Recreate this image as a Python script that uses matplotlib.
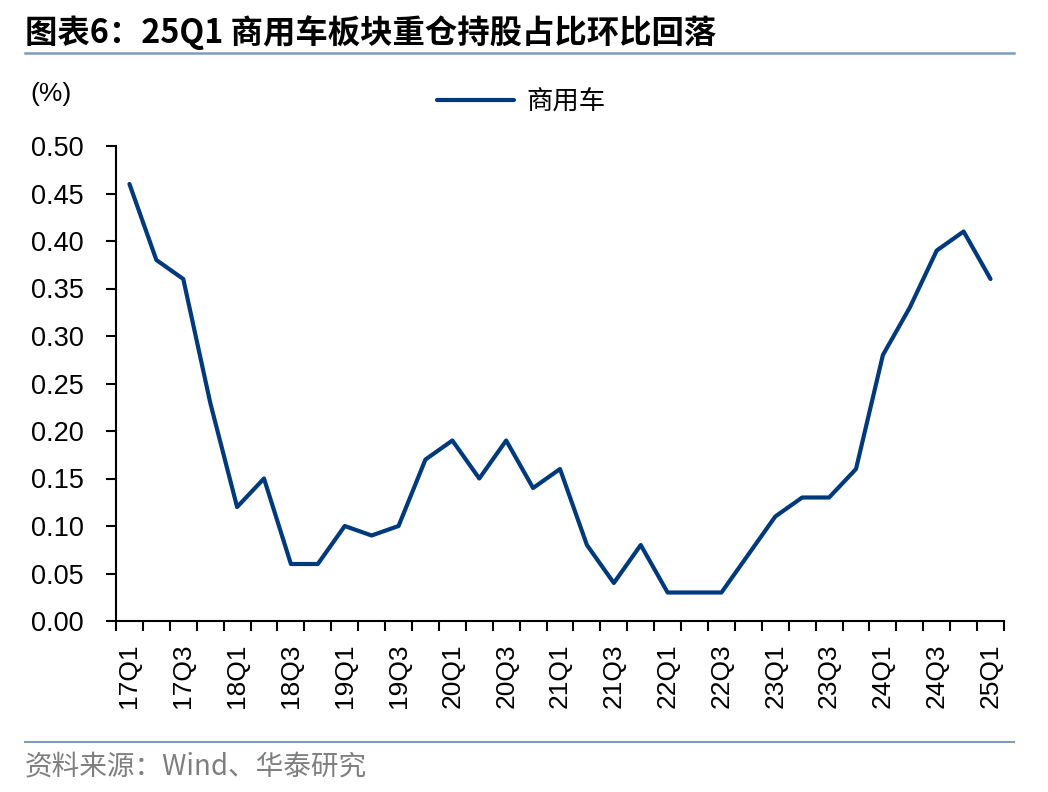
import matplotlib
matplotlib.use("Agg")
import matplotlib.pyplot as plt
import numpy as np

quarters = ["17Q1","17Q2","17Q3","17Q4","18Q1","18Q2","18Q3","18Q4",
            "19Q1","19Q2","19Q3","19Q4","20Q1","20Q2","20Q3","20Q4",
            "21Q1","21Q2","21Q3","21Q4","22Q1","22Q2","22Q3","22Q4",
            "23Q1","23Q2","23Q3","23Q4","24Q1","24Q2","24Q3","24Q4","25Q1"]
values = [0.46,0.38,0.36,0.23,0.12,0.15,0.06,0.06,
          0.10,0.09,0.10,0.17,0.19,0.15,0.19,0.14,
          0.16,0.08,0.04,0.08,0.03,0.03,0.03,0.07,
          0.11,0.13,0.13,0.16,0.28,0.33,0.39,0.41,0.36]
series_name = "商用车"
yticks = [0.00,0.05,0.10,0.15,0.20,0.25,0.30,0.35,0.40,0.45,0.50]

CJK = ['Noto Sans CJK SC', 'DejaVu Sans']
LAT = ['Liberation Sans', 'DejaVu Sans']

fig = plt.figure(figsize=(10.48, 7.92), dpi=100)
W, H = 1048, 792
ax = fig.add_axes([116/W, 1-621/H, (1004-116)/W, (621-146)/H])

x = np.arange(len(quarters))
line, = ax.plot(x, values, color='#003A7D', lw=3.0, solid_joinstyle='round',
                solid_capstyle='round', label=series_name)

ax.set_xlim(-0.5, len(quarters)-0.5)
ax.set_ylim(0, 0.5)
ax.set_yticks(yticks)
ax.set_yticklabels([f"{v:.2f}" for v in yticks], family=LAT, fontsize=19.5)
ax.tick_params(axis='y', direction='out', length=7, width=1.5, pad=16)

ax.set_xticks(np.arange(-0.5, len(quarters)), minor=True)
ax.set_xticks(x[::2])
ax.set_xticklabels(quarters[::2], rotation=90, family=LAT, fontsize=19)
ax.tick_params(axis='x', which='major', length=0, pad=16)
ax.tick_params(axis='x', which='minor', direction='out', length=7, width=1.5)

for s in ['top', 'right']:
    ax.spines[s].set_visible(False)
for s in ['left', 'bottom']:
    ax.spines[s].set_linewidth(1.5)

leg = fig.legend(handles=[line], loc='center', bbox_to_anchor=(521/W, 1-102/H),
                 frameon=False, prop={'family': CJK, 'size': 19}, handlelength=2.95,
                 handletextpad=0.45)

fig.text(30/W, 1-94/H, "(%)", family=LAT, fontsize=19, va='center', ha='left')

fig.text(25/W, 1-33/H, "图表6：25Q1 商用车板块重仓持股占比环比回落", family=CJK,
         fontsize=23.3, fontweight='bold', va='center', ha='left')
fig.add_artist(plt.Line2D([25/W, 1014/W], [1-53/H, 1-53/H], color='#7F9CC0', lw=1.8))
fig.add_artist(plt.Line2D([25/W, 1014/W], [1-742/H, 1-742/H], color='#7F9CC0', lw=1.5))
fig.text(25/W, 1-766/H, "资料来源：Wind、华泰研究", family=CJK, fontsize=19.9,
         color='#7F7F7F', va='center', ha='left')

fig.savefig("out.png", dpi=100)
